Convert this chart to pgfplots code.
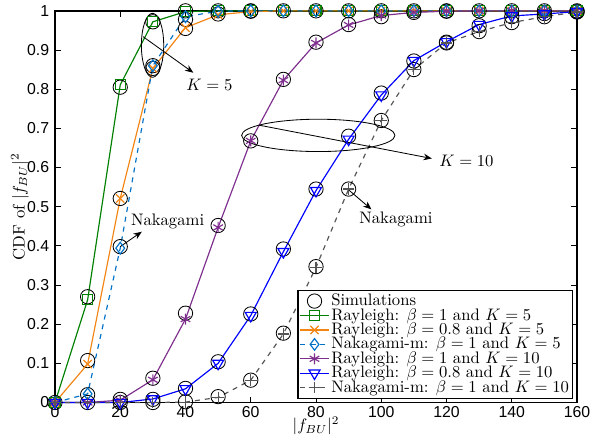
\documentclass[border=0pt]{standalone}
\usepackage{fontspec}
\newfontfamily\tickfont{Liberation Sans}
\usepackage{pgfplots}
\pgfplotsset{compat=1.18}
\usetikzlibrary{arrows.meta}
\definecolor{cgreen}{RGB}{0,128,0}
\definecolor{corange}{RGB}{242,133,20}
\definecolor{cltblue}{RGB}{0,114,200}
\definecolor{cpurple}{RGB}{126,47,142}
\definecolor{cblue}{RGB}{0,0,255}
\definecolor{cgray}{RGB}{85,85,85}
\begin{document}
\begin{tikzpicture}
\begin{axis}[
  scale only axis, width=313.2pt, height=235pt,
  xmin=0, xmax=160, ymin=0, ymax=1,
  xtick={0,20,...,160},
  ytick={0,0.1,0.2,0.3,0.4,0.5,0.6,0.7,0.8,0.9,1},
  yticklabels={0,0.1,0.2,0.3,0.4,0.5,0.6,0.7,0.8,0.9,1},
  xticklabels={0,20,40,60,80,100,120,140,160},
  tick align=inside, major tick length=3.5pt,
  axis line style={line width=1pt},
  tick style={black, line width=0.6pt},
  every tick label/.append style={font=\tickfont\fontsize{9.5}{11}\selectfont},
  xticklabel style={yshift=1pt},
  /pgf/number format/assume math mode=true,
  clip=false,
  xlabel={$|f_{BU}|^2$}, ylabel={CDF of $|f_{BU}|^2$},
  every axis x label/.style={at={(axis description cs:0.5,-0.06)}, anchor=center},
  every axis y label/.style={at={(axis description cs:-0.067,0.5)}, anchor=center, rotate=90},
  legend style={at={(rel axis cs:0.993,0.009)}, anchor=south east,
    draw=black, line width=0.8pt, inner sep=1pt, row sep=-2.2pt,
    nodes={inner sep=1.2pt}, font=\fontsize{10}{11}\selectfont},
  legend cell align=left,
  legend image post style={line width=0.7pt},
]
% Simulations
\addplot[only marks, mark=o, mark size=4.3pt, black, mark options={line width=0.5pt}] coordinates {
(0,0)(10,0.27)(20,0.805)(30,0.972)(40,1)(50,1)(60,1)(70,1)(80,1)(90,1)(100,1)(110,1)(120,1)(130,1)(140,1)(150,1)(160,1)
(10,0.107)(20,0.521)(30,0.853)(40,0.955)(50,0.992)(60,0.999)
(10,0.02)(20,0.398)(30,0.86)(40,0.978)
(10,0)(20,0.008)(30,0.062)(40,0.228)(50,0.452)(60,0.668)(70,0.825)(80,0.92)(90,0.965)(100,0.985)(110,0.996)(120,0.999)
(20,0)(30,0.008)(40,0.036)(50,0.104)(60,0.226)(70,0.392)(80,0.545)(90,0.68)(100,0.79)(110,0.872)(120,0.92)(130,0.962)(140,0.985)(150,0.993)(160,0.998)
(30,0)(40,0.002)(50,0.015)(60,0.057)(70,0.177)(80,0.347)(90,0.545)(100,0.72)(110,0.85)(120,0.918)(130,0.947)(140,0.97)(150,0.985)(160,0.997)
};
\addlegendentry{Simulations}
\addplot[cgreen, line width=0.7pt, mark=square, mark size=3pt] coordinates {
(0,0)(10,0.262)(20,0.811)(30,0.972)(40,0.998)(50,1)(60,1)(70,1)(80,1)(90,1)(100,1)(110,1)(120,1)(130,1)(140,1)(150,1)(160,1)};
\addlegendentry{Rayleigh: $\beta=1$ and $K=5$}
\addplot[corange, line width=0.7pt, mark=x, mark size=3.5pt] coordinates {
(0,0)(10,0.098)(20,0.521)(30,0.853)(40,0.957)(50,0.99)(60,0.998)(70,1)(80,1)(90,1)(100,1)(110,1)(120,1)(130,1)(140,1)(150,1)(160,1)};
\addlegendentry{Rayleigh: $\beta=0.8$ and $K=5$}
\addplot[cltblue, dashed, line width=0.7pt, mark=diamond, mark size=3.5pt, mark options={solid}] coordinates {
(0,0)(10,0.022)(20,0.394)(30,0.86)(40,0.985)(50,0.999)(60,1)(70,1)(80,1)(90,1)(100,1)(110,1)(120,1)(130,1)(140,1)(150,1)(160,1)};
\addlegendentry{Nakagami-m: $\beta=1$ and $K=5$}
\addplot[cpurple, line width=0.7pt, mark=asterisk, mark size=3.3pt] coordinates {
(0,0)(10,0)(20,0.006)(30,0.058)(40,0.213)(50,0.447)(60,0.668)(70,0.823)(80,0.918)(90,0.964)(100,0.988)(110,0.996)(120,0.999)(130,1)(140,1)(150,1)(160,1)};
\addlegendentry{Rayleigh: $\beta=1$ and $K=10$}
\addplot[cblue, line width=0.7pt, mark=triangle, mark size=3.8pt, mark options={rotate=180}] coordinates {
(0,0)(10,0)(20,0)(30,0.009)(40,0.035)(50,0.1)(60,0.222)(70,0.385)(80,0.541)(90,0.672)(100,0.785)(110,0.873)(120,0.921)(130,0.965)(140,0.987)(150,0.992)(160,0.998)};
\addlegendentry{Rayleigh: $\beta=0.8$ and $K=10$}
\addplot[cgray, dashed, line width=0.7pt, mark=+, mark size=3.5pt, mark options={solid}] coordinates {
(0,0)(10,0)(20,0)(30,0)(40,0.001)(50,0.013)(60,0.057)(70,0.175)(80,0.345)(90,0.545)(100,0.72)(110,0.85)(120,0.918)(130,0.947)(140,0.97)(150,0.985)(160,0.997)};
\addlegendentry{Nakagami-m: $\beta=1$ and $K=10$}
% annotations
\draw[line width=0.5pt] (axis cs:29.9,0.912) ellipse [x radius=6.7pt, y radius=19.2pt];
\draw[line width=0.5pt, -{Stealth[length=5pt,width=4pt]}] (axis cs:27,0.934) -- (axis cs:42.4,0.842);
\node[anchor=west] at (axis cs:38.5,0.81) {$K=5$};
\draw[line width=0.5pt] (axis cs:80.7,0.682) ellipse [x radius=46pt, y radius=9.7pt];
\draw[line width=0.5pt, -{Stealth[length=5pt,width=4pt]}] (axis cs:62.6,0.708) -- (axis cs:115.5,0.623);
\node[anchor=west] at (axis cs:116,0.617) {$K=10$};
\draw[line width=0.5pt, -{Stealth[length=5pt,width=4pt]}] (axis cs:89.7,0.545) -- (axis cs:97,0.493);
\node[anchor=west] at (axis cs:91.5,0.468) {Nakagami};
\draw[line width=0.5pt, -{Stealth[length=5pt,width=4pt]}] (axis cs:20,0.398) -- (axis cs:26.6,0.436);
\node[anchor=west] at (axis cs:21.5,0.462) {Nakagami};
\coordinate (sw) at (rel axis cs:0,0);
\coordinate (ne) at (rel axis cs:1,1);
\end{axis}
\pgfresetboundingbox
\useasboundingbox ([shift={(-33pt,-26.7pt)}]sw) rectangle ([shift={(7.8pt,6.5pt)}]ne);
\end{tikzpicture}
\end{document}
